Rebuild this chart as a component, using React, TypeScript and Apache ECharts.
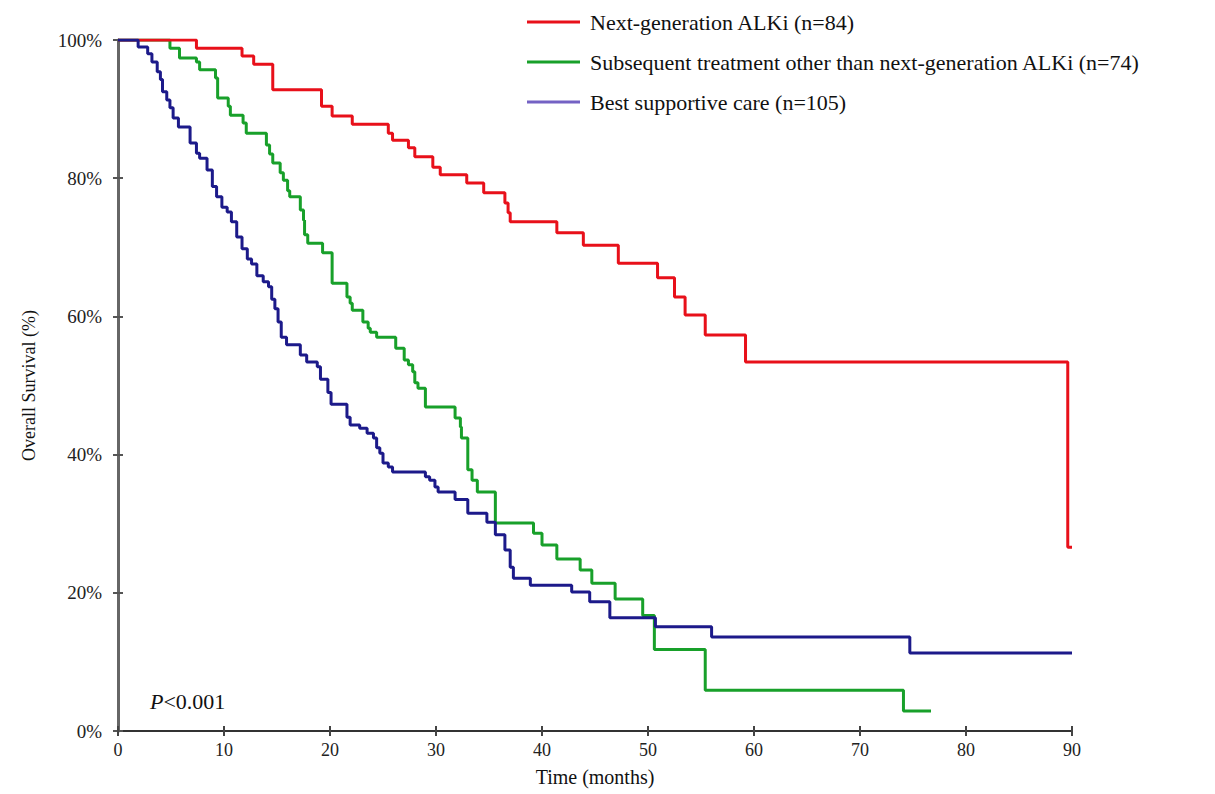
import React, { useEffect, useRef } from "react";
import * as echarts from "echarts";

const xTicks = [0, 10, 20, 30, 40, 50, 60, 70, 80, 90];
const yTicks = [0, 20, 40, 60, 80, 100];

const seriesNames = [
  "Next-generation ALKi (n=84)",
  "Subsequent treatment other than next-generation ALKi (n=74)",
  "Best supportive care (n=105)",
];

const redTime = [0, 7.4, 11.7, 12.8, 14.6, 19.2, 20.2, 22.1, 25.5, 25.9, 27.4, 28.0, 29.7, 30.4, 32.9, 34.5, 36.5, 36.8, 37.0, 41.4, 43.9, 47.2, 50.9, 52.5, 53.5, 55.4, 59.2, 89.6, 90];
const redSurv = [100, 98.8, 97.7, 96.5, 92.8, 90.4, 89.0, 87.8, 86.5, 85.5, 84.4, 83.1, 81.6, 80.5, 79.3, 77.9, 76.4, 75.0, 73.7, 72.1, 70.3, 67.7, 65.6, 62.8, 60.2, 57.3, 53.4, 26.6, 26.6];

const greenTime = [0, 4.9, 5.8, 7.4, 7.7, 9.2, 9.4, 10.4, 10.6, 11.8, 12.1, 14.0, 14.3, 14.6, 15.3, 15.6, 16.0, 16.2, 17.2, 17.5, 17.6, 17.9, 19.3, 20.2, 21.6, 21.9, 22.1, 23.1, 23.6, 23.8, 24.4, 26.2, 27.0, 27.4, 27.8, 28.0, 28.3, 29.0, 31.8, 32.3, 32.4, 33.0, 33.4, 33.9, 35.6, 39.2, 40.0, 41.4, 43.6, 44.7, 46.9, 49.5, 50.6, 55.4, 74.1, 76.7];
const greenSurv = [100, 98.8, 97.4, 96.8, 95.7, 94.5, 91.6, 90.4, 89.1, 88.0, 86.5, 84.8, 83.5, 82.2, 80.8, 79.7, 78.2, 77.3, 75.4, 73.9, 71.8, 70.6, 69.2, 64.8, 62.8, 61.9, 60.9, 59.2, 58.3, 57.7, 57.0, 55.4, 53.7, 53.0, 52.0, 50.4, 49.6, 46.9, 45.3, 44.0, 42.4, 37.8, 36.3, 34.6, 30.1, 28.6, 26.9, 24.9, 23.3, 21.4, 19.1, 16.7, 11.8, 5.9, 2.9, 2.9];

const blueTime = [0, 1.9, 2.8, 3.2, 3.7, 4.0, 4.2, 4.6, 4.9, 5.2, 5.7, 6.8, 7.4, 7.7, 8.4, 8.9, 9.3, 9.8, 10.3, 10.7, 11.2, 11.7, 12.2, 12.6, 13.1, 13.7, 14.2, 14.5, 14.8, 15.1, 15.4, 15.9, 17.2, 17.8, 18.8, 19.1, 19.8, 20.1, 21.6, 21.9, 22.8, 23.5, 24.1, 24.4, 24.7, 25.0, 25.5, 25.9, 29.0, 29.4, 29.9, 30.2, 31.8, 33.0, 34.8, 35.6, 36.5, 37.0, 37.3, 38.9, 42.8, 44.5, 46.4, 50.7, 56.0, 74.7, 90];
const blueSurv = [100, 99.0, 98.0, 96.8, 95.4, 94.3, 92.5, 91.3, 90.2, 88.7, 87.4, 85.1, 83.6, 82.9, 81.2, 78.8, 77.3, 75.8, 75.1, 73.7, 71.5, 69.8, 68.3, 67.6, 65.9, 65.0, 64.3, 62.5, 61.1, 59.2, 57.0, 55.9, 54.4, 53.4, 52.7, 50.9, 49.0, 47.3, 45.4, 44.3, 43.8, 43.1, 42.4, 41.0, 40.2, 38.8, 38.2, 37.5, 36.8, 36.3, 35.3, 34.6, 33.5, 31.5, 30.2, 28.4, 26.2, 23.7, 22.1, 21.1, 20.1, 18.7, 16.4, 15.1, 13.6, 11.3, 11.3];

const pair = (t: number[], s: number[]) => t.map((v, i) => [v, s[i]]);

const SERIF = "'Liberation Serif', 'DejaVu Serif', serif";

export default function App() {
  const ref = useRef<HTMLDivElement>(null);
  useEffect(() => {
    if (!ref.current) return;
    const chart = echarts.init(ref.current, undefined, { renderer: "svg" });
    const baseX = {
      type: "value",
      min: 0,
      max: 90,
      interval: 10,
      splitLine: { show: false },
    };
    const baseY = {
      type: "value",
      min: 0,
      max: 100,
      interval: 20,
      splitLine: { show: false },
    };
    chart.setOption({
      animation: false,
      backgroundColor: "#ffffff",
      grid: { left: 118, right: 143, top: 40, bottom: 63 },
      legend: {
        orient: "vertical",
        left: 522,
        top: 6,
        icon: "rect",
        itemWidth: 53,
        itemHeight: 3,
        itemGap: 18,
        textStyle: { fontFamily: SERIF, fontSize: 22, color: "#111", lineHeight: 22, padding: [0, 0, 0, 5] },
        data: [
          { name: seriesNames[0], itemStyle: { color: "#e8101a" } },
          { name: seriesNames[1], itemStyle: { color: "#18a02a" } },
          { name: seriesNames[2], itemStyle: { color: "#7462c4" } },
        ],
      },
      xAxis: [
        {
          ...baseX,
          name: "Time (months)",
          nameLocation: "middle",
          nameGap: 36,
          nameTextStyle: { fontFamily: SERIF, fontSize: 20, color: "#111" },
          axisLine: { show: true, onZero: false, lineStyle: { color: "#333", width: 2 } },
          axisTick: { show: true, length: 5, lineStyle: { color: "#444", width: 2 } },
          axisLabel: { fontFamily: SERIF, fontSize: 18, color: "#222", margin: 10, formatter: (v: number) => (xTicks.includes(v) ? String(v) : "") },
        },
        {
          ...baseX,
          position: "bottom",
          axisLine: { show: false },
          axisTick: { show: true, inside: true, length: 5, lineStyle: { color: "#444", width: 2 } },
          axisLabel: { show: false },
        },
      ],
      yAxis: [
        {
          ...baseY,
          name: "Overall Survival (%)",
          nameLocation: "middle",
          nameGap: 80,
          nameRotate: 90,
          nameTextStyle: { fontFamily: SERIF, fontSize: 18, color: "#111" },
          axisLine: { show: true, onZero: false, lineStyle: { color: "#666", width: 3 } },
          axisTick: { show: true, length: 5, lineStyle: { color: "#555", width: 2 } },
          axisLabel: { fontFamily: SERIF, fontSize: 19, color: "#222", margin: 16, formatter: (v: number) => (yTicks.includes(v) ? v + "%" : "") },
        },
        {
          ...baseY,
          position: "left",
          axisLine: { show: false },
          axisTick: { show: true, inside: true, length: 5, lineStyle: { color: "#555", width: 2 } },
          axisLabel: { show: false },
        },
      ],
      series: [
        {
          name: seriesNames[1],
          type: "line",
          step: "end",
          symbol: "none",
          data: pair(greenTime, greenSurv),
          lineStyle: { color: "#18a02a", width: 3 },
          itemStyle: { color: "#18a02a" },
        },
        {
          name: seriesNames[0],
          type: "line",
          step: "end",
          symbol: "none",
          data: pair(redTime, redSurv),
          lineStyle: { color: "#e8101a", width: 3 },
          itemStyle: { color: "#e8101a" },
        },
        {
          name: seriesNames[2],
          type: "line",
          step: "end",
          symbol: "none",
          data: pair(blueTime, blueSurv),
          lineStyle: { color: "#1c1a8a", width: 3 },
          itemStyle: { color: "#1c1a8a" },
        },
      ],
      graphic: [
        {
          type: "text",
          left: 150,
          top: 690,
          style: {
            text: "{i|P}{n|<0.001}",
            rich: {
              i: { fontFamily: SERIF, fontSize: 22, fontStyle: "italic", fill: "#111" },
              n: { fontFamily: SERIF, fontSize: 22, fill: "#111" },
            },
          },
        },
      ],
    });
    return () => chart.dispose();
  }, []);
  return <div ref={ref} style={{ width: 1215, height: 794, position: "absolute", left: 0, top: 0 }} />;
}
